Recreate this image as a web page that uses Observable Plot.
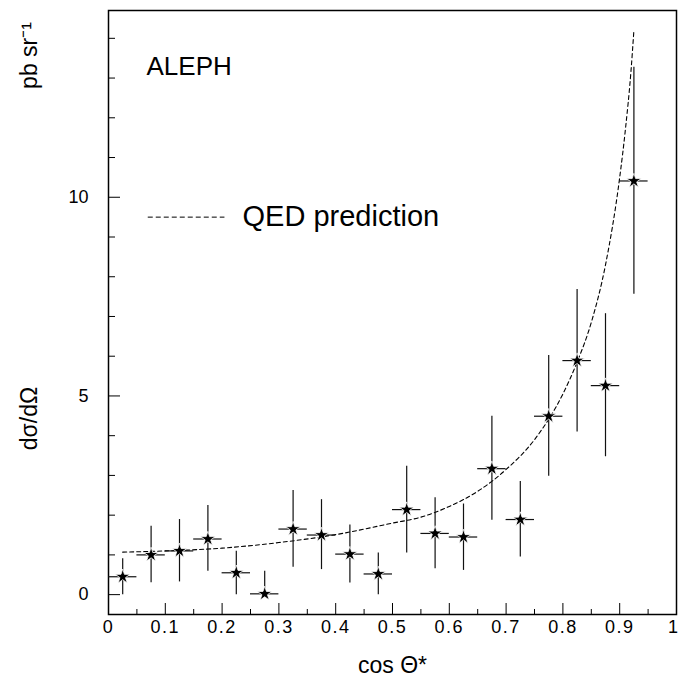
<!DOCTYPE html>
<html>
<head>
<meta charset="utf-8">
<script src="https://cdn.jsdelivr.net/npm/d3@7"></script>
<script src="https://cdn.jsdelivr.net/npm/@observablehq/plot@0.6"></script>
<style>
  html, body { margin: 0; padding: 0; background: #fff; }
  #chart svg { display: block; }
  #chart g[aria-label="x-axis tick label"] text { letter-spacing: 1.5px; }
</style>
</head>
<body>
<div id="chart"></div>
<script>
// Measured points: bin centres in cos Θ*, value and error-bar ends (pb/sr)
const cosCentres = [0.025,0.075,0.125,0.175,0.225,0.275,0.325,0.375,0.425,0.475,0.525,0.575,0.625,0.675,0.725,0.775,0.825,0.875,0.925];
const sigma      = [0.45,1.00,1.10,1.40,0.55,0.02,1.65,1.50,1.02,0.52,2.14,1.54,1.45,3.17,1.89,4.49,5.89,5.26,10.41];
const sigmaLow   = [0.00,0.30,0.32,0.59,0.00,0.00,0.69,0.63,0.29,0.00,1.05,0.65,0.61,1.87,0.95,2.98,4.09,3.47,7.56];
const sigmaHigh  = [0.90,1.72,1.89,2.24,1.09,0.59,2.62,2.39,1.75,1.05,3.23,2.44,2.28,4.49,2.85,6.02,7.68,7.07,13.27];
const binHalfWidth = 0.025;

// QED prediction curve
const qedCos   = [0.025,0.1,0.2,0.3,0.4,0.5,0.55,0.6,0.65,0.7,0.75,0.8,0.825,0.85,0.875,0.9,0.91,0.92,0.925];
const qedSigma = [1.07,1.10,1.17,1.31,1.51,1.80,1.95,2.22,2.60,3.15,3.90,5.05,5.85,6.85,8.30,10.5,11.7,13.2,14.2];

// Axis ticks
const xMajorTicks = [0,0.1,0.2,0.3,0.4,0.5,0.6,0.7,0.8,0.9];
const xEndTick = [1];
const xMinorTicks = [0.05,0.15,0.25,0.35,0.45,0.55,0.65,0.75,0.85,0.95];
const yMajorTicks = [0,5,10];
const yMinorTicks = [1,2,3,4,6,7,8,9,11,12,13,14];

const points = cosCentres.map((c, i) => ({c, s: sigma[i], lo: sigmaLow[i], hi: sigmaHigh[i]}));
const qed = qedCos.map((c, i) => ({c, s: qedSigma[i]}));

const font = "'Liberation Sans', Helvetica, Arial, sans-serif";
const fmtX = d => d === 0 ? "0" : d === 1 ? "1" : d3.format(".1f")(d);

const chart = Plot.plot({
  width: 678,
  height: 681,
  marginLeft: 108,
  marginRight: 2,
  marginTop: 10,
  marginBottom: 67,
  style: {fontFamily: font, fontSize: "18px", background: "#fff", color: "#000"},
  x: {domain: [0, 1]},
  y: {domain: [-0.5, 14.7]},
  marks: [
    Plot.frame({stroke: "#000", strokeWidth: 1.5}),
    // axes with inward ticks
    Plot.axisX({ticks: xMajorTicks, tickSize: -11, tickPadding: 17, fontSize: 18, tickFormat: fmtX, label: null}),
    Plot.axisX({ticks: xEndTick, tickSize: -11, tickPadding: 17, fontSize: 18, tickFormat: fmtX, textAnchor: "end", dx: 3, label: null}),
    Plot.axisX({ticks: xMinorTicks, tickSize: -5, tickFormat: () => "", label: null}),
    Plot.axisY({ticks: yMajorTicks, tickSize: -12, tickPadding: 32, fontSize: 18, tickFormat: d => String(d), label: null}),
    Plot.axisY({ticks: yMinorTicks, tickSize: -7, tickFormat: () => "", label: null}),
    // QED prediction
    Plot.line(qed, {x: "c", y: "s", curve: "monotone-x", stroke: "#000", strokeWidth: 1.1, strokeDasharray: "4,3"}),
    // error bars
    Plot.ruleX(points, {x: "c", y1: "lo", y2: "hi", stroke: "#111", strokeWidth: 1.2}),
    Plot.ruleY(points, {y: "s", x1: d => d.c - binHalfWidth, x2: d => d.c + binHalfWidth, stroke: "#111", strokeWidth: 1.2}),
    Plot.dot(points, {x: "c", y: "s", symbol: "star", r: 4.6, fill: "#000", stroke: "#fff", strokeWidth: 0.8}),
    // annotations
    Plot.text(["ALEPH"], {frameAnchor: "top-left", dx: 38, dy: 56, fontSize: 26, textAnchor: "start", lineAnchor: "middle", fill: "#000"}),
    Plot.ruleY([0], {y: () => 9.5, x1: () => 0.07, x2: () => 0.205, stroke: "#000", strokeWidth: 1, strokeDasharray: "5,3"}),
    Plot.text(["QED prediction"], {x: () => 0.236, y: () => 9.5, fontSize: 29, textAnchor: "start", lineAnchor: "middle", fill: "#000"}),
    Plot.text(["cos Θ*"], {frameAnchor: "bottom", dy: 51, fontSize: 23, textAnchor: "middle", lineAnchor: "middle", fill: "#000"}),
    Plot.text(["dσ/dΩ"], {frameAnchor: "left", dx: -79, dy: 106, rotate: -90, fontSize: 23, textAnchor: "middle", lineAnchor: "middle", fill: "#000"}),
    Plot.text(["pb sr⁻¹"], {frameAnchor: "top-left", dx: -79, dy: 45, rotate: -90, fontSize: 23, textAnchor: "middle", lineAnchor: "middle", fill: "#000"})
  ]
});
document.getElementById("chart").appendChild(chart);
</script>
</body>
</html>
